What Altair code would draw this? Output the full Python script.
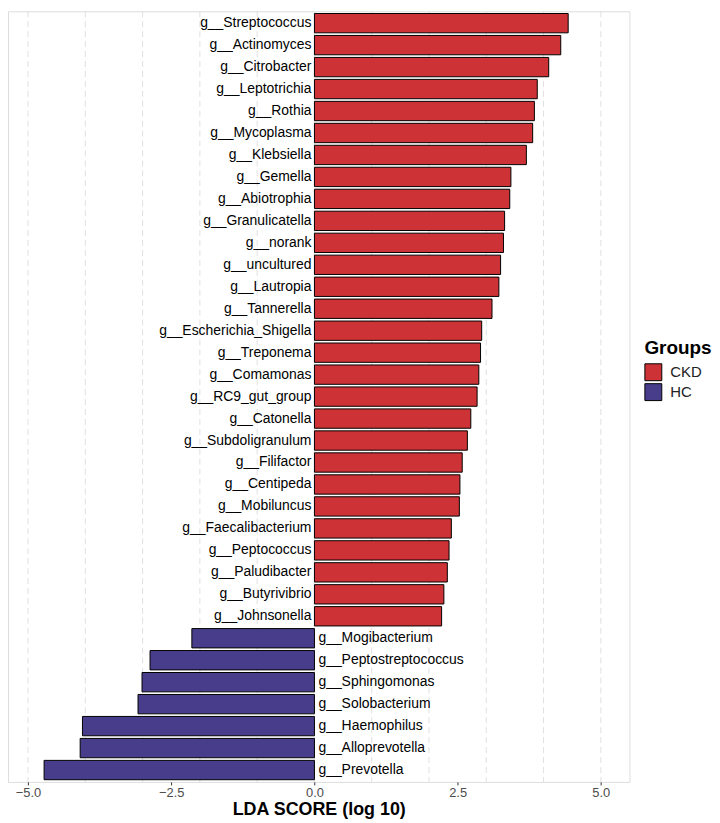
import altair as alt
import pandas as pd

names = [
    "g__Streptococcus", "g__Actinomyces", "g__Citrobacter", "g__Leptotrichia", "g__Rothia",
    "g__Mycoplasma", "g__Klebsiella", "g__Gemella", "g__Abiotrophia", "g__Granulicatella",
    "g__norank", "g__uncultured", "g__Lautropia", "g__Tannerella", "g__Escherichia_Shigella",
    "g__Treponema", "g__Comamonas", "g__RC9_gut_group", "g__Catonella", "g__Subdoligranulum",
    "g__Filifactor", "g__Centipeda", "g__Mobiluncus", "g__Faecalibacterium", "g__Peptococcus",
    "g__Paludibacter", "g__Butyrivibrio", "g__Johnsonella",
    "g__Mogibacterium", "g__Peptostreptococcus", "g__Sphingomonas", "g__Solobacterium",
    "g__Haemophilus", "g__Alloprevotella", "g__Prevotella",
]
scores = [
    4.43, 4.30, 4.09, 3.89, 3.84,
    3.81, 3.70, 3.43, 3.41, 3.32,
    3.30, 3.25, 3.22, 3.10, 2.92,
    2.90, 2.87, 2.84, 2.73, 2.67,
    2.58, 2.54, 2.53, 2.39, 2.35,
    2.32, 2.26, 2.22,
    -2.14, -2.87, -3.01, -3.08,
    -4.05, -4.09, -4.72,
]
groups = ["CKD"] * 28 + ["HC"] * 7
grid_values = [-5, -4, -3, -2, -1, 0, 1, 2, 3, 4, 5]
tick_values = [-5.0, -2.5, 0.0, 2.5, 5.0]

df = pd.DataFrame({"name": names, "score": scores, "group": groups})
grid_df = pd.DataFrame({"g": grid_values})

FONT = "Liberation Sans"
xscale = alt.Scale(domain=[-5.35, 5.5], nice=False, zero=False)
yscale = alt.Scale(paddingInner=0.12, paddingOuter=0.1)
order = names

grid = alt.Chart(grid_df).mark_rule(
    color="#E0E0E0", strokeDash=[6, 4], strokeWidth=1
).encode(x=alt.X("g:Q", scale=xscale))

bars = alt.Chart(df).mark_bar(stroke="black", strokeWidth=1).encode(
    x=alt.X(
        "score:Q",
        scale=xscale,
        title="LDA SCORE (log 10)",
        axis=alt.Axis(
            values=tick_values,
            format=".1f",
            grid=False,
            domain=False,
            tickSize=3,
            tickColor="#333333",
            labelColor="#4D4D4D",
            labelFontSize=13,
            labelFont=FONT,
            labelPadding=2,
            titleFont=FONT,
            titleFontSize=18,
            titleFontWeight="bold",
            titleColor="black",
            titlePadding=1,
        ),
    ),
    y=alt.Y("name:N", sort=order, scale=yscale, axis=None),
    color=alt.Color(
        "group:N",
        scale=alt.Scale(domain=["CKD", "HC"], range=["#CD3336", "#483D8B"]),
        legend=alt.Legend(
            title="Groups",
            orient="none",
            legendX=640,
            legendY=330,
            titleFont=FONT,
            titleFontSize=19,
            titleFontWeight="bold",
            titleColor="black",
            labelFont=FONT,
            labelFontSize=15,
            labelColor="#222222",
            symbolType="square",
            symbolSize=289,
            symbolStrokeColor="black",
            symbolStrokeWidth=1,
            symbolOpacity=1,
            rowPadding=-4,
            titlePadding=5,
            labelOffset=8,
        ),
    ),
)

labels_pos = alt.Chart(df).transform_filter(alt.datum.group == "CKD").mark_text(
    align="right", baseline="middle", dx=-3, font=FONT, fontSize=14, color="black"
).encode(
    x=alt.datum(0, scale=xscale),
    y=alt.Y("name:N", sort=order, scale=yscale, axis=None),
    text="name:N",
)

labels_neg = alt.Chart(df).transform_filter(alt.datum.group == "HC").mark_text(
    align="left", baseline="middle", dx=4, font=FONT, fontSize=14, color="black"
).encode(
    x=alt.datum(0, scale=xscale),
    y=alt.Y("name:N", sort=order, scale=yscale, axis=None),
    text="name:N",
)

chart = alt.layer(grid, bars, labels_pos, labels_neg).properties(
    width=625,
    height=775,
    padding=0,
).configure_view(
    stroke="#A0A0A0", strokeWidth=1.5
).configure(background="white")

chart.save("out.html", embed_options={"renderer": "svg", "actions": False})
